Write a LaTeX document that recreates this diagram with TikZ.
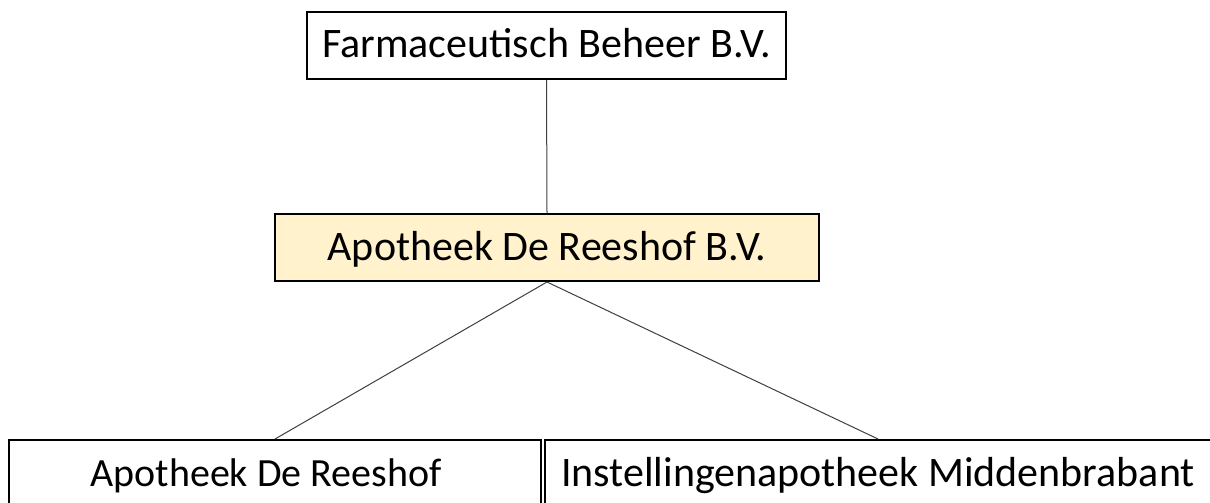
\documentclass[tikz,border=0pt]{standalone}
\usepackage{fontspec}
\setmainfont{Carlito}
\definecolor{midfill}{HTML}{FFF2CC}
\definecolor{linkgray}{HTML}{3F3F3F}
\begin{document}
\begin{tikzpicture}[x=1pt,y=-1pt,
  box/.style={draw=black,line width=2pt,fill=white,inner sep=0pt,
    minimum height=67pt,text height=25pt,text depth=0pt,
    font=\fontsize{42}{50}\selectfont},
  link/.style={draw=linkgray,line width=1pt}]
\fill[white] (0,0) rectangle (1210,503);
\useasboundingbox (0,0) rectangle (1210,503);
\clip (0,0) rectangle (1210,503);
\node[box,minimum width=479pt] (top) at (546.5,45.5) {Farmaceutisch Beheer B.V.};
\node[box,fill=midfill,minimum width=544pt] (mid) at (547,247.5) {Apotheek De Reeshof B.V.};
\node[box,minimum width=532pt,font=\fontsize{40}{48}\selectfont] (bl) at (275,473.5) {Apotheek De Reeshof\hspace*{18pt}};
\node[box,minimum width=666pt] (br) at (878,473.5) {Instellingenapotheek Middenbrabant};
\draw[link] (top.south) -- (mid.north);
\draw[link] (mid.south) -- (bl.north);
\draw[link] (mid.south) -- (br.north);
\end{tikzpicture}
\end{document}
